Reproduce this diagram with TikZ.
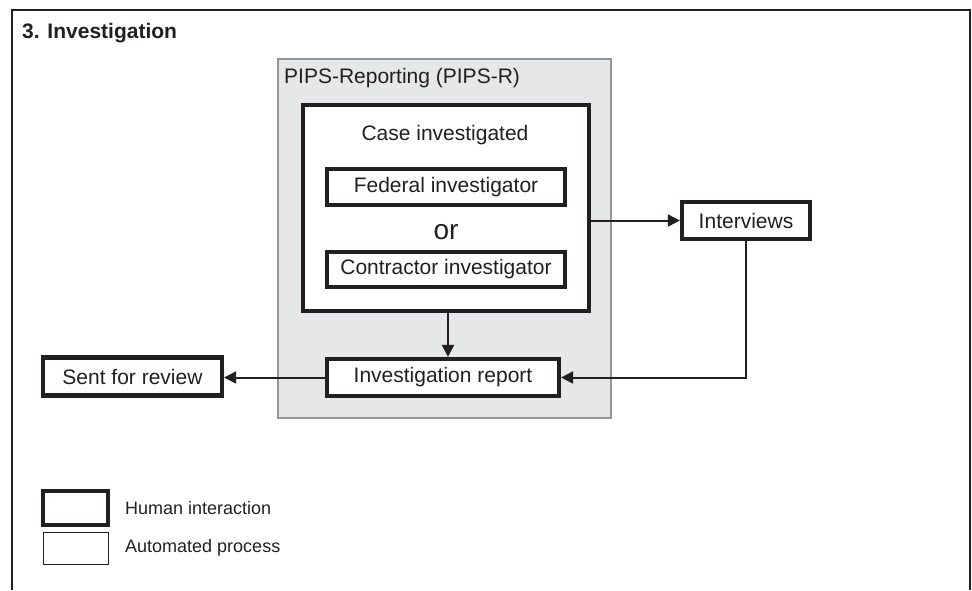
\documentclass[tikz,border=0pt]{standalone}
\usepackage{fontspec}
\setmainfont{Liberation Sans}
\usetikzlibrary{arrows.meta}
\definecolor{ink}{HTML}{231F20}
\definecolor{panel}{HTML}{E6E7E8}
\definecolor{panelline}{HTML}{939598}
\newcommand\fbody{\fontsize{21}{24}\selectfont}
\newcommand\fsmall{\fontsize{18}{21}\selectfont}
\tikzset{
  human/.style={draw=ink, line width=4.5pt, fill=white, inner sep=0pt, font=\fbody, text=ink},
  auto box/.style={draw=ink, line width=1pt, fill=white, inner sep=0pt},
  arr/.style={draw=ink, line width=2pt, -{Triangle[length=12pt,width=12pt]}},
  plain text/.style={inner sep=0pt, text=ink}
}
\begin{document}
\begin{tikzpicture}[x=1pt,y=-1pt]
\useasboundingbox (0,0) rectangle (972,590);
% outer frame (open at bottom)
\draw[ink, line width=1.8pt] (12,590) -- (12,10) -- (970,10) -- (970,590);
\node[plain text, anchor=west, font=\fbody\bfseries] (title) at (22,33) {3. Investigation};
% PIPS-R panel
\node[draw=panelline, fill=panel, line width=1.2pt, minimum width=333pt, minimum height=359pt, inner sep=0pt] (panel) at (444.5,238.5) {};
\node[plain text, anchor=west, font=\fbody] (paneltitle) at (284,78) {PIPS-Reporting (PIPS-R)};
% case box
\node[human, minimum width=286pt, minimum height=206pt] (case) at (446,208) {};
\node[plain text, font=\fbody] (casetitle) at (445,135) {Case investigated};
\node[human, line width=4.2pt, minimum width=238pt, minimum height=36pt] (fed) at (446,187) {Federal investigator};
\node[plain text, font=\fontsize{28}{30}\selectfont] (or) at (446,232) {or};
\node[human, line width=4.2pt, minimum width=238pt, minimum height=35pt] (con) at (446,269.5) {Contractor investigator};
% other boxes
\node[human, line width=4.2pt, minimum width=232pt, minimum height=37pt] (report) at (443,377.5) {Investigation report};
\node[human, line width=4.2pt, minimum width=128pt, minimum height=37pt] (iv) at (746,220.5) {Interviews};
\node[human, line width=4.2pt, minimum width=179pt, minimum height=38pt] (sent) at (132.5,376.5) {Sent for review};
% connectors
\draw[arr] ([xshift=2pt]case.south) -- ([xshift=2pt]case.south |- report.north);
\draw[arr] (case.east |- iv.west) -- (iv.west);
\draw[arr] (iv.south) |- (report.east);
\draw[arr] (report.west) -- (report.west -| sent.east);
% legend
\node[human, minimum width=65pt, minimum height=34pt] (lhuman) at (75.5,508) {};
\node[auto box, minimum width=65pt, minimum height=32pt] (lauto) at (75.5,548) {};
\node[plain text, anchor=west, font=\fsmall] (lhumantext) at (125,508) {Human interaction};
\node[plain text, anchor=west, font=\fsmall] (lautotext) at (125,548) {Automated process};
\end{tikzpicture}
\end{document}
